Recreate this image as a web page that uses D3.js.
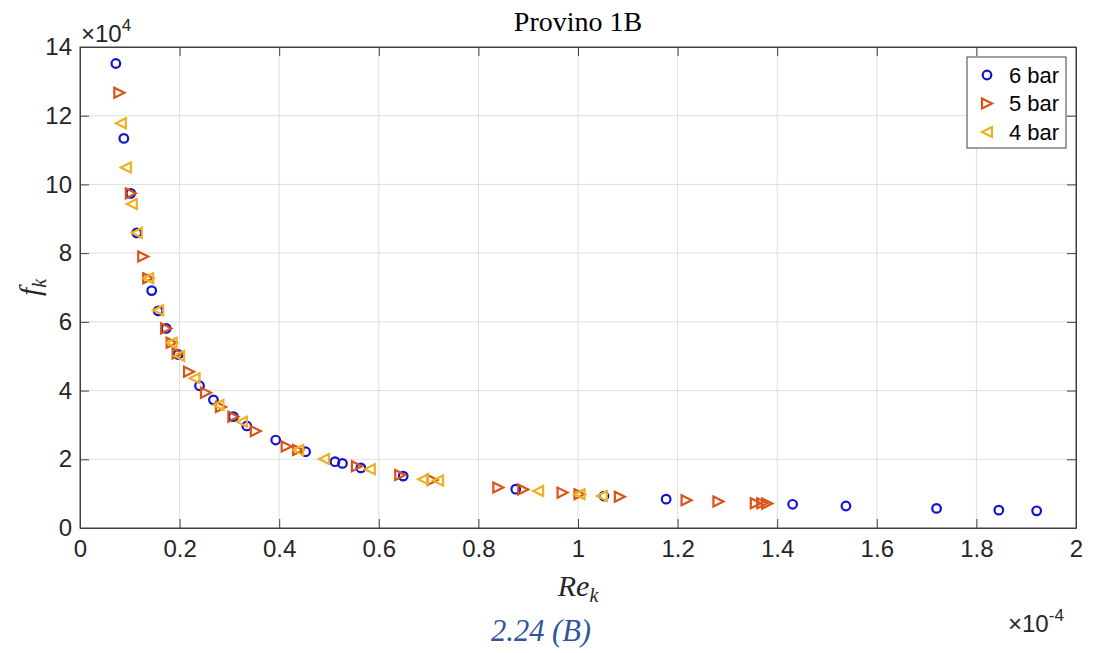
<!DOCTYPE html>
<html>
<head>
<meta charset="utf-8">
<script src="https://cdn.jsdelivr.net/npm/d3@7"></script>
<style>
  html, body { margin: 0; padding: 0; background: #fff; }
  #chart { width: 1103px; height: 653px; }
</style>
</head>
<body>
<div id="chart"></div>
<script>
// Re_k in units of 1e-4, f_k in units of 1e4 (as shown on the axes)
const re6 = [0.072, 0.088, 0.102, 0.114, 0.144, 0.157, 0.173, 0.197, 0.240, 0.268, 0.308, 0.335, 0.393,
             0.453, 0.512, 0.527, 0.564, 0.649, 0.875, 1.052, 1.177, 1.431, 1.538, 1.720, 1.845, 1.921];
const f6  = [13.52, 11.34, 9.74, 8.59, 6.91, 6.32, 5.81, 5.05, 4.14, 3.73, 3.24, 2.97, 2.56,
             2.22, 1.93, 1.88, 1.75, 1.51, 1.13, 0.93, 0.84, 0.69, 0.64, 0.57, 0.52, 0.50];

const re5 = [0.079, 0.102, 0.127, 0.137, 0.173, 0.184, 0.196, 0.219, 0.253, 0.283, 0.308, 0.353, 0.415,
             0.438, 0.556, 0.643, 0.708, 0.840, 0.890, 0.969, 1.003, 1.084, 1.218, 1.282, 1.357, 1.370, 1.380];
const f5  = [12.67, 9.74, 7.90, 7.27, 5.81, 5.39, 5.08, 4.55, 3.94, 3.52, 3.24, 2.82, 2.37,
             2.27, 1.80, 1.54, 1.40, 1.18, 1.12, 1.03, 0.98, 0.91, 0.81, 0.77, 0.72, 0.72, 0.71];

const re4 = [0.082, 0.092, 0.104, 0.114, 0.137, 0.157, 0.184, 0.199, 0.230, 0.278, 0.325, 0.438, 0.490,
             0.582, 0.689, 0.719, 0.920, 1.003, 1.048];
const f4  = [11.78, 10.49, 9.43, 8.59, 7.27, 6.34, 5.39, 5.01, 4.36, 3.58, 3.09, 2.27, 2.01,
             1.71, 1.42, 1.38, 1.08, 0.98, 0.93];

const seriesNames = ['6 bar', '5 bar', '4 bar'];
const xTicks = [0, 0.2, 0.4, 0.6, 0.8, 1, 1.2, 1.4, 1.6, 1.8, 2];
const yTicks = [0, 2, 4, 6, 8, 10, 12, 14];

const W = 1103, H = 653;
const pLeft = 80, pRight = 1076, pTop = 47, pBottom = 528;
const axisColor = '#404040';
const sans = "'Liberation Sans', Arial, sans-serif";
const serif = "'Liberation Serif', 'Times New Roman', serif";

const svg = d3.select('#chart').append('svg')
    .attr('width', W)
    .attr('height', H);

const x = d3.scaleLinear().domain([0, 2]).range([pLeft, pRight]);
const y = d3.scaleLinear().domain([0, 14]).range([pBottom, pTop]);

// grid
svg.append('g').selectAll('line')
    .data(xTicks.slice(1, -1))
    .enter().append('line')
    .attr('x1', d => x(d)).attr('x2', d => x(d))
    .attr('y1', pTop).attr('y2', pBottom)
    .attr('stroke', '#dedede').attr('stroke-width', 1);
svg.append('g').selectAll('line')
    .data(yTicks.slice(1, -1))
    .enter().append('line')
    .attr('x1', pLeft).attr('x2', pRight)
    .attr('y1', d => y(d)).attr('y2', d => y(d))
    .attr('stroke', '#dedede').attr('stroke-width', 1);

// axes (ticks inward, box on)
const fmt = d => String(d);
svg.append('g').attr('transform', `translate(0,${pBottom})`)
    .call(d3.axisBottom(x).tickValues(xTicks).tickFormat(fmt).tickSizeInner(-9).tickSizeOuter(0).tickPadding(12));
svg.append('g').attr('transform', `translate(${pLeft},0)`)
    .call(d3.axisLeft(y).tickValues(yTicks).tickFormat(fmt).tickSizeInner(-9).tickSizeOuter(0).tickPadding(8));
svg.append('g').attr('transform', `translate(0,${pTop})`)
    .call(d3.axisTop(x).tickValues(xTicks).tickFormat('').tickSizeInner(-9).tickSizeOuter(0));
svg.append('g').attr('transform', `translate(${pRight},0)`)
    .call(d3.axisRight(y).tickValues(yTicks).tickFormat('').tickSizeInner(-9).tickSizeOuter(0));

svg.selectAll('.domain').attr('stroke', axisColor);
svg.selectAll('.tick line').attr('stroke', axisColor);
svg.selectAll('.tick text')
    .attr('fill', '#262626')
    .style('font-family', sans)
    .style('font-size', '24px');

svg.append('rect')
    .attr('x', pLeft).attr('y', pTop)
    .attr('width', pRight - pLeft).attr('height', pBottom - pTop)
    .attr('fill', 'none').attr('stroke', axisColor).attr('stroke-width', 1);

// markers
const colors = ['#1212d2', '#d95319', '#edb120'];
const tri = 5;
function drawSeries(xs, ys, kind, color) {
    const pts = xs.map((v, i) => [v, ys[i]]);
    const g = svg.append('g');
    if (kind === 'o') {
        g.selectAll('circle').data(pts).enter().append('circle')
            .attr('cx', d => x(d[0])).attr('cy', d => y(d[1]))
            .attr('r', 4.3)
            .attr('fill', 'none').attr('stroke', color).attr('stroke-width', 2.2);
    } else {
        const s = kind === '>' ? 1 : -1;
        g.selectAll('path').data(pts).enter().append('path')
            .attr('transform', d => `translate(${x(d[0])},${y(d[1])})`)
            .attr('d', `M${-s * tri},${-tri}L${s * tri},0L${-s * tri},${tri}Z`)
            .attr('fill', 'none').attr('stroke', color).attr('stroke-width', 2.2);
    }
}
drawSeries(re6, f6, 'o', colors[0]);
drawSeries(re5, f5, '>', colors[1]);
drawSeries(re4, f4, '<', colors[2]);

// legend
const lg = svg.append('g');
lg.append('rect')
    .attr('x', 967).attr('y', 57).attr('width', 99).attr('height', 91)
    .attr('fill', '#fff').attr('stroke', axisColor).attr('stroke-width', 1);
const kinds = ['o', '>', '<'];
seriesNames.forEach((name, i) => {
    const cy = 75 + i * 28.5;
    if (kinds[i] === 'o') {
        lg.append('circle').attr('cx', 987).attr('cy', cy).attr('r', 4.3)
            .attr('fill', 'none').attr('stroke', colors[i]).attr('stroke-width', 2.2);
    } else {
        const s = kinds[i] === '>' ? 1 : -1;
        lg.append('path')
            .attr('transform', `translate(987,${cy})`)
            .attr('d', `M${-s * tri},${-tri}L${s * tri},0L${-s * tri},${tri}Z`)
            .attr('fill', 'none').attr('stroke', colors[i]).attr('stroke-width', 2.2);
    }
    lg.append('text').attr('x', 1009).attr('y', cy).attr('dy', '0.36em')
        .style('font-family', sans).style('font-size', '22px').attr('fill', '#000')
        .text(name);
});

// title and labels
svg.append('text').attr('x', (pLeft + pRight) / 2).attr('y', 31)
    .attr('text-anchor', 'middle')
    .style('font-family', serif).style('font-size', '28px').attr('fill', '#000')
    .text('Provino 1B');

const e4 = svg.append('text').attr('x', 81).attr('y', 42)
    .style('font-family', sans).style('font-size', '24px').attr('fill', '#262626');
e4.append('tspan').text('×10');
e4.append('tspan').attr('dy', -11).style('font-size', '17px').text('4');

const em4 = svg.append('text').attr('x', 1008).attr('y', 632)
    .style('font-family', sans).style('font-size', '24px').attr('fill', '#262626');
em4.append('tspan').text('×10');
em4.append('tspan').attr('dy', -11).style('font-size', '17px').text('-4');

const xl = svg.append('text').attr('x', (pLeft + pRight) / 2).attr('y', 596)
    .attr('text-anchor', 'middle')
    .style('font-family', serif).style('font-style', 'italic').style('font-size', '30px').attr('fill', '#262626');
xl.append('tspan').text('Re');
xl.append('tspan').attr('dy', 6).style('font-size', '20px').text('k');

const yl = svg.append('text')
    .attr('transform', `translate(40,${(pTop + pBottom) / 2}) rotate(-90)`)
    .attr('text-anchor', 'middle')
    .style('font-family', serif).style('font-style', 'italic').style('font-size', '30px').attr('fill', '#262626');
yl.append('tspan').text('f');
yl.append('tspan').attr('dy', 6).style('font-size', '20px').text('k');

svg.append('text').attr('x', 541).attr('y', 641)
    .attr('text-anchor', 'middle')
    .attr('textLength', 100).attr('lengthAdjust', 'spacingAndGlyphs')
    .style('font-family', serif).style('font-style', 'italic').style('font-size', '32px')
    .attr('fill', '#2f5597')
    .text('2.24 (B)');
</script>
</body>
</html>
